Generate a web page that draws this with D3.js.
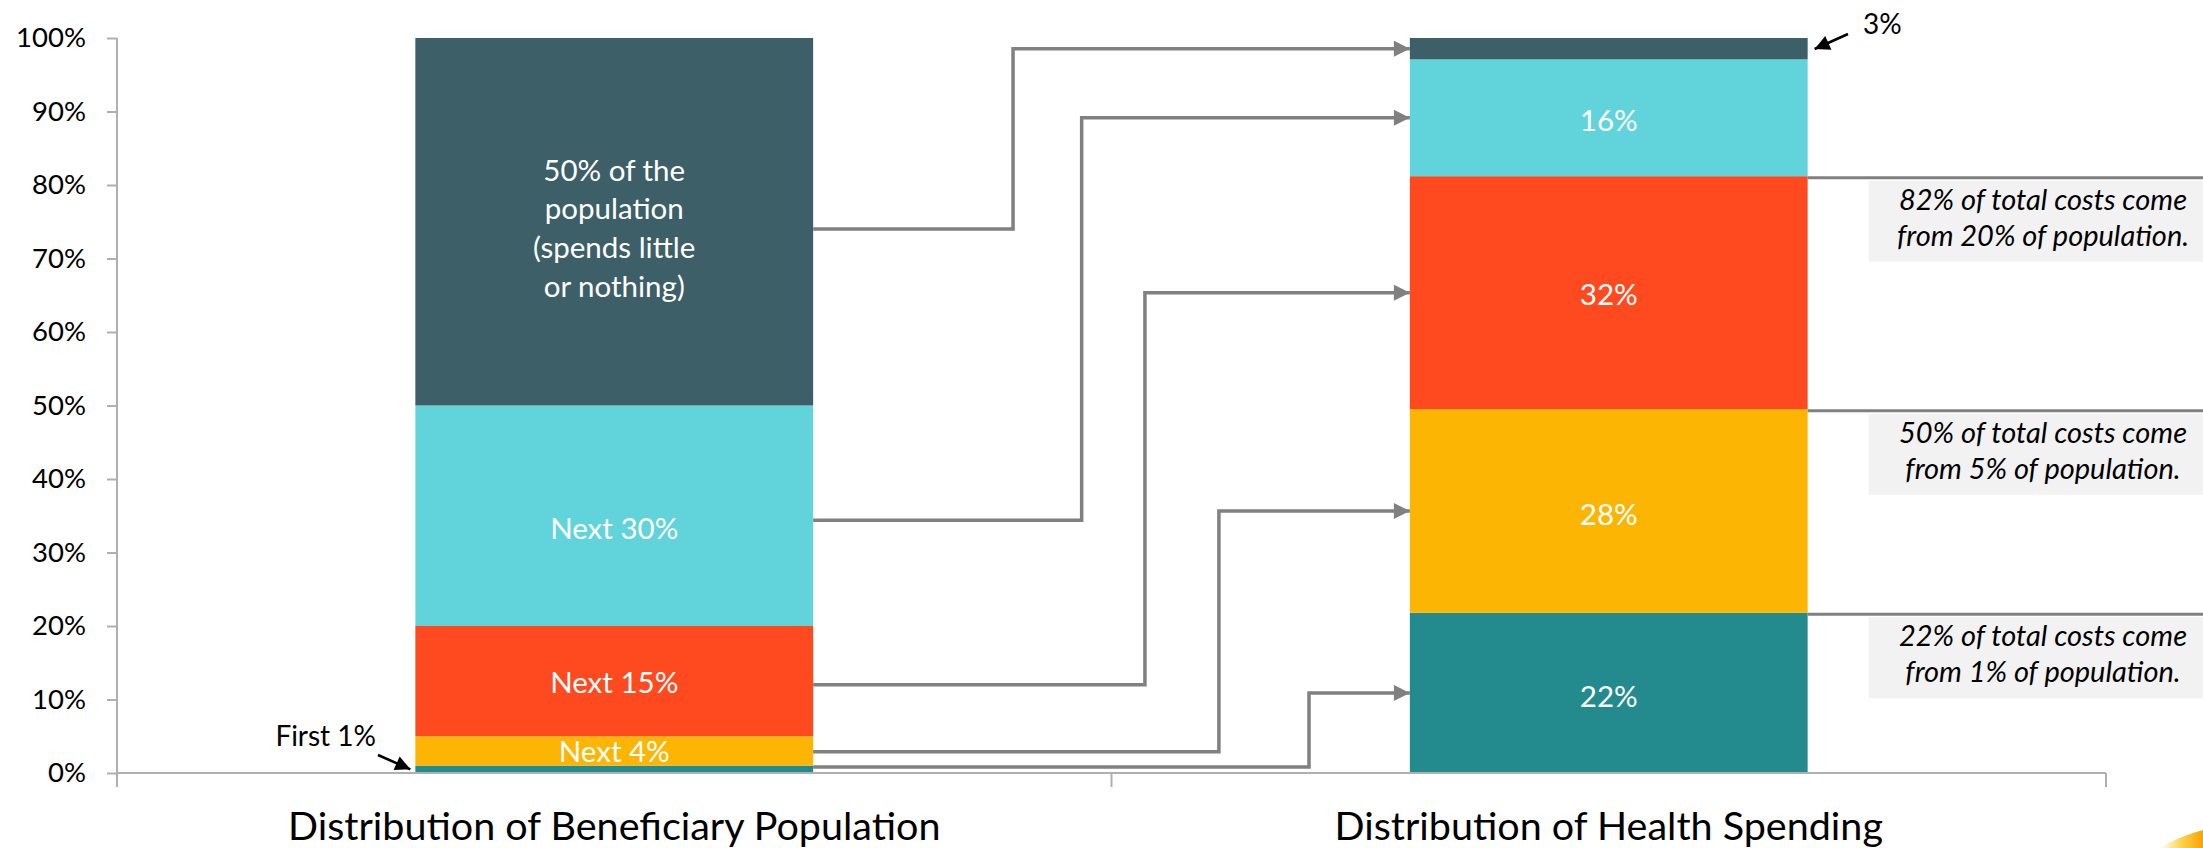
<!DOCTYPE html>
<html>
<head>
<meta charset="utf-8">
<script src="https://cdn.jsdelivr.net/npm/d3@7"></script>
<style>
  html, body { margin: 0; padding: 0; background: #ffffff; }
  svg { display: block; }
  text { font-family: Lato, "Noto Sans", sans-serif; }
</style>
</head>
<body>
<svg id="chart" width="2203" height="848"></svg>
<script>
// ---------------- data ----------------
const categories = ["Distribution of Beneficiary Population", "Distribution of Health Spending"];
const segmentNames = ["First 1%", "Next 4%", "Next 15%", "Next 30%", "Bottom 50%"];
const populationValues = [1, 4, 15, 30, 50];
const spendingValues = [21.8, 27.7, 31.7, 15.9, 2.9];
const populationLabels = ["", "Next 4%", "Next 15%", "Next 30%", ["50% of the", "population", "(spends little", "or nothing)"]];
const spendingLabels = ["22%", "28%", "32%", "16%", ""];
const colors = ["#238b8e", "#fdb504", "#ff4a1f", "#60d4da", "#3d5f67"];
const tickValues = [0, 10, 20, 30, 40, 50, 60, 70, 80, 90, 100];
const tickLabels = ["0%", "10%", "20%", "30%", "40%", "50%", "60%", "70%", "80%", "90%", "100%"];
// connector start values (on population bar) – end at spending segment centres
const connectorStart = [0.8, 2.9, 12.0, 34.4, 74.0];
const summaryNotes = [
  ["22% of total costs come", "from 1% of population."],
  ["50% of total costs come", "from 5% of population."],
  ["82% of total costs come", "from 20% of population."]
];
const summaryLevels = [1, 2, 3]; // cumulative spending boundary index after segment i
const topSpendLabel = "3%";

// ---------------- layout ----------------
const svg = d3.select("#chart");
const W = 2203, H = 848;
const plot = { left: 117, right: 2106, top: 38, bottom: 773 };
const y = d3.scaleLinear().domain([0, 100]).range([plot.bottom, plot.top]);
const x = d3.scaleBand().domain(categories).range([plot.left, plot.right]).paddingInner(0.6).paddingOuter(0.3);
const axisColor = "#b0b0b0";
const connColor = "#808080";
const popLabelShift = [0, 1, 2, 13, 7];     // small vertical nudges (px) as in the original
const spendLabelShift = [4, 4, 2, 3, 0];

function stackOf(vals) {
  let acc = 0;
  return vals.map((v, i) => { const s = { i, y0: acc, y1: acc + v, v }; acc += v; return s; });
}
const popStack = stackOf(populationValues);
const spendStack = stackOf(spendingValues);

// defs: arrowheads
const defs = svg.append("defs");
defs.append("marker").attr("id", "grayArrow").attr("viewBox", "0 0 10 10")
  .attr("refX", 10).attr("refY", 5).attr("markerUnits", "userSpaceOnUse")
  .attr("markerWidth", 17).attr("markerHeight", 16).attr("orient", "auto")
  .append("path").attr("d", "M0,0 L10,5 L0,10 Z").attr("fill", connColor);
defs.append("marker").attr("id", "blackArrow").attr("viewBox", "0 0 10 10")
  .attr("refX", 10).attr("refY", 5).attr("markerUnits", "userSpaceOnUse")
  .attr("markerWidth", 16).attr("markerHeight", 15).attr("orient", "auto")
  .append("path").attr("d", "M0,0 L10,5 L0,10 Z").attr("fill", "#000");
const grad = defs.append("linearGradient").attr("id", "logoGrad").attr("x1", "0").attr("x2", "1").attr("y1", "0").attr("y2", "0");
grad.append("stop").attr("offset", "0").attr("stop-color", "#ffffff");
grad.append("stop").attr("offset", "0.5").attr("stop-color", "#fcd34d");
grad.append("stop").attr("offset", "1").attr("stop-color", "#f5a400");

// ---------------- y axis ----------------
const yAxis = d3.axisLeft(y).tickValues(tickValues).tickFormat((d, i) => tickLabels[i]).tickSize(10).tickSizeOuter(0).tickPadding(21);
const gy = svg.append("g").attr("transform", `translate(${plot.left},0)`).call(yAxis);
gy.select(".domain").remove();
gy.selectAll(".tick line").attr("stroke", axisColor).attr("stroke-width", 2);
gy.selectAll(".tick text").attr("font-size", 27.5).attr("fill", "#000").style("font-family", "Lato, sans-serif");
svg.append("line").attr("x1", plot.left).attr("x2", plot.left).attr("y1", y(100)).attr("y2", plot.bottom + 14)
  .attr("stroke", axisColor).attr("stroke-width", 2);

// ---------------- bars ----------------
const bw = x.bandwidth();
function drawBar(cat, stack, labels, shifts, fs) {
  const g = svg.append("g");
  g.selectAll("rect").data(stack).join("rect")
    .attr("x", x(cat)).attr("width", bw)
    .attr("y", d => y(d.y1)).attr("height", d => y(d.y0) - y(d.y1))
    .attr("fill", d => colors[d.i]);
  stack.forEach(d => {
    const lab = labels[d.i];
    if (!lab || lab.length === 0) return;
    const lines = Array.isArray(lab) ? lab : [lab];
    const cy = (y(d.y0) + y(d.y1)) / 2 + shifts[d.i];
    const lh = 38.8;
    const t = g.append("text").attr("text-anchor", "middle").attr("fill", "#ffffff").attr("font-size", fs);
    lines.forEach((ln, k) => {
      t.append("tspan").attr("x", x(cat) + bw / 2)
        .attr("y", cy + (k - (lines.length - 1) / 2) * lh + 10)
        .text(ln);
    });
  });
}
drawBar(categories[0], popStack, populationLabels, popLabelShift, 29.5);
drawBar(categories[1], spendStack, spendingLabels, spendLabelShift, 29.5);

// ---------------- x axis ----------------
svg.append("line").attr("x1", plot.left).attr("x2", plot.right).attr("y1", plot.bottom).attr("y2", plot.bottom)
  .attr("stroke", axisColor).attr("stroke-width", 2);
const step = x.step();
[1, 2].forEach(k => {
  const xx = plot.left + k * step;
  svg.append("line").attr("x1", xx).attr("x2", xx).attr("y1", plot.bottom).attr("y2", plot.bottom + 14)
    .attr("stroke", axisColor).attr("stroke-width", 2);
});
svg.selectAll(".cat").data(categories).join("text").attr("class", "cat")
  .attr("x", d => x(d) + bw / 2).attr("y", 840).attr("text-anchor", "middle")
  .attr("font-size", 39.5).attr("fill", "#000").text(d => d);

// ---------------- connectors ----------------
const xFrom = x(categories[0]) + bw;
const xTo = x(categories[1]);
const elbowFrac = [0.831, 0.68, 0.556, 0.45, 0.335];
spendStack.forEach((d, i) => {
  const y0 = y(connectorStart[i]);
  const y1 = y((d.y0 + d.y1) / 2);
  const xe = xFrom + elbowFrac[i] * (xTo - xFrom);
  svg.append("path")
    .attr("d", `M${xFrom},${y0} H${xe} V${y1} H${xTo}`)
    .attr("fill", "none").attr("stroke", connColor).attr("stroke-width", 3.5)
    .attr("marker-end", "url(#grayArrow)");
});

// ---------------- summary notes ----------------
const noteX0 = x(categories[1]) + bw;
summaryLevels.forEach((lvl, k) => {
  const yy = y(spendStack[lvl - 1].y1) + 1.5;
  svg.append("line").attr("x1", noteX0).attr("x2", W).attr("y1", yy).attr("y2", yy)
    .attr("stroke", connColor).attr("stroke-width", 3);
  const boxX = noteX0 + 61;
  svg.append("rect").attr("x", boxX).attr("y", yy + 3).attr("width", 348).attr("height", 81).attr("fill", "#f2f2f2");
  const t = svg.append("text").attr("text-anchor", "middle").attr("font-style", "italic")
    .attr("font-size", 29).attr("fill", "#000");
  summaryNotes[k].forEach((ln, j) => {
    t.append("tspan").attr("x", 2043).attr("y", yy + 32 + j * 36).text(ln);
  });
});

// ---------------- small call-outs ----------------
svg.append("text").attr("x", 376).attr("y", 746).attr("text-anchor", "end").attr("font-size", 28).attr("fill", "#000").text(segmentNames[0]);
svg.append("line").attr("x1", 378).attr("y1", 755).attr("x2", x(categories[0]) - 5).attr("y2", y(populationValues[0] / 2))
  .attr("stroke", "#000").attr("stroke-width", 2.5).attr("marker-end", "url(#blackArrow)");
svg.append("text").attr("x", 1863).attr("y", 34).attr("font-size", 28).attr("fill", "#000").text(topSpendLabel);
svg.append("line").attr("x1", 1848).attr("y1", 34).attr("x2", x(categories[1]) + bw + 7).attr("y2", 49)
  .attr("stroke", "#000").attr("stroke-width", 2.5).attr("marker-end", "url(#blackArrow)");

// logo fragment bottom-right
svg.append("path").attr("d", "M2160,848 Q2180,836 2203,830 L2203,848 Z").attr("fill", "url(#logoGrad)");
</script>
</body>
</html>
